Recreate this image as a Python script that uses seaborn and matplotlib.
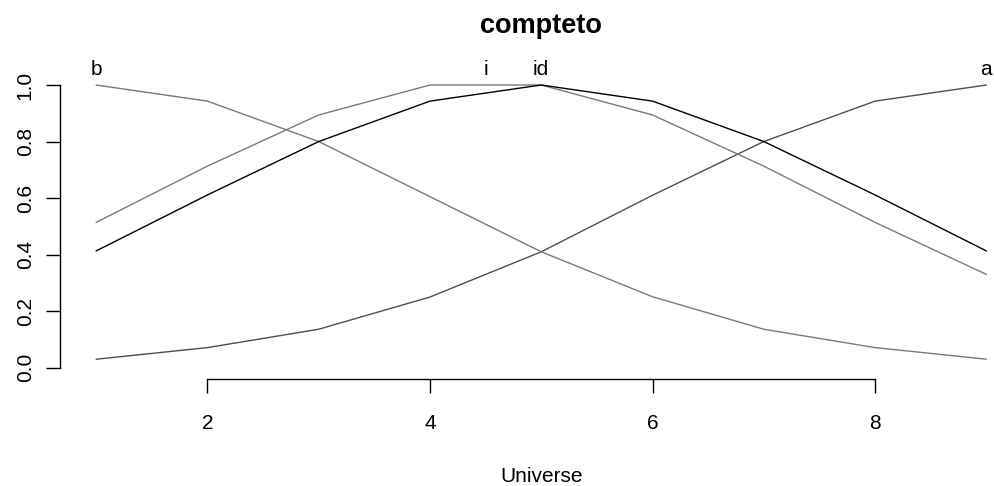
import numpy as np
import pandas as pd
import matplotlib
matplotlib.use("Agg")
import matplotlib.pyplot as plt
import seaborn as sns

# Universe of discourse and membership grades of each fuzzy set
universe = [1, 2, 3, 4, 5, 6, 7, 8, 9]
mem_a = [0.03, 0.071, 0.136, 0.25, 0.41, 0.61, 0.80, 0.943, 1.0]
mem_b = [1.0, 0.943, 0.80, 0.605, 0.41, 0.251, 0.136, 0.071, 0.03]
mem_i = [0.514, 0.713, 0.894, 1.0, 1.0, 0.894, 0.713, 0.514, 0.33]
mem_id = [0.413, 0.611, 0.80, 0.943, 1.0, 0.943, 0.80, 0.611, 0.413]

set_names = ["a", "b", "i", "id"]
set_colors = ["#4f4f4f", "#7a7a7a", "#7a7a7a", "#000000"]
label_x = [9, 1, 4.5, 5]

x_ticks = [2, 4, 6, 8]
y_ticks = [0.0, 0.2, 0.4, 0.6, 0.8, 1.0]

frames = []
for name, vals in zip(set_names, [mem_a, mem_b, mem_i, mem_id]):
    frames.append(pd.DataFrame({"Universe": universe, "Membership": vals, "set": name}))
df = pd.concat(frames, ignore_index=True)

sns.set_style("white")
plt.rcParams["font.family"] = ["Liberation Sans", "DejaVu Sans"]
plt.rcParams["text.color"] = "black"
plt.rcParams["axes.labelcolor"] = "black"
plt.rcParams["xtick.color"] = "black"
plt.rcParams["ytick.color"] = "black"

FS = 15

fig = plt.figure(figsize=(9.95, 4.86), dpi=100)
ax = fig.add_axes([60.5 / 995, 107 / 486, (1022 - 60.5) / 995, (379 - 73.7) / 486])

sns.lineplot(data=df, x="Universe", y="Membership", hue="set",
             palette=dict(zip(set_names, set_colors)), linewidth=1.0,
             legend=False, ax=ax, clip_on=False)

# Name each set just above its peak
for name, lx in zip(set_names, label_x):
    ax.annotate(name, xy=(lx, 1.0), xytext=(0, 7.5), textcoords="offset points",
                ha="center", va="baseline", fontsize=FS, color="black",
                annotation_clip=False)

ax.set_xlim(0.68, 9.32)
ax.set_ylim(-0.04, 1.04)
ax.set_xticks(x_ticks)
ax.set_xticklabels([str(t) for t in x_ticks], fontsize=FS)
ax.set_yticks(y_ticks)
ax.set_yticklabels([f"{t:.1f}" for t in y_ticks], fontsize=FS,
                   rotation=90, va="center")

for side in ["top", "right"]:
    ax.spines[side].set_visible(False)
ax.spines["left"].set_bounds(0, 1)
ax.spines["bottom"].set_bounds(2, 8)
for side in ["left", "bottom"]:
    ax.spines[side].set_color("black")
    ax.spines[side].set_linewidth(1.0)

ax.tick_params(axis="x", direction="out", length=10, width=1.0, color="black", pad=15)
ax.tick_params(axis="y", direction="out", length=10, width=1.0, color="black", pad=8.5)
ax.tick_params(left=True, bottom=True)

ax.set_xlabel("Universe", fontsize=FS, labelpad=25)
ax.set_ylabel("")
ax.set_title("compteto", fontsize=19.5, fontweight="bold", pad=29, color="black")

fig.savefig("out.png", dpi=100)
